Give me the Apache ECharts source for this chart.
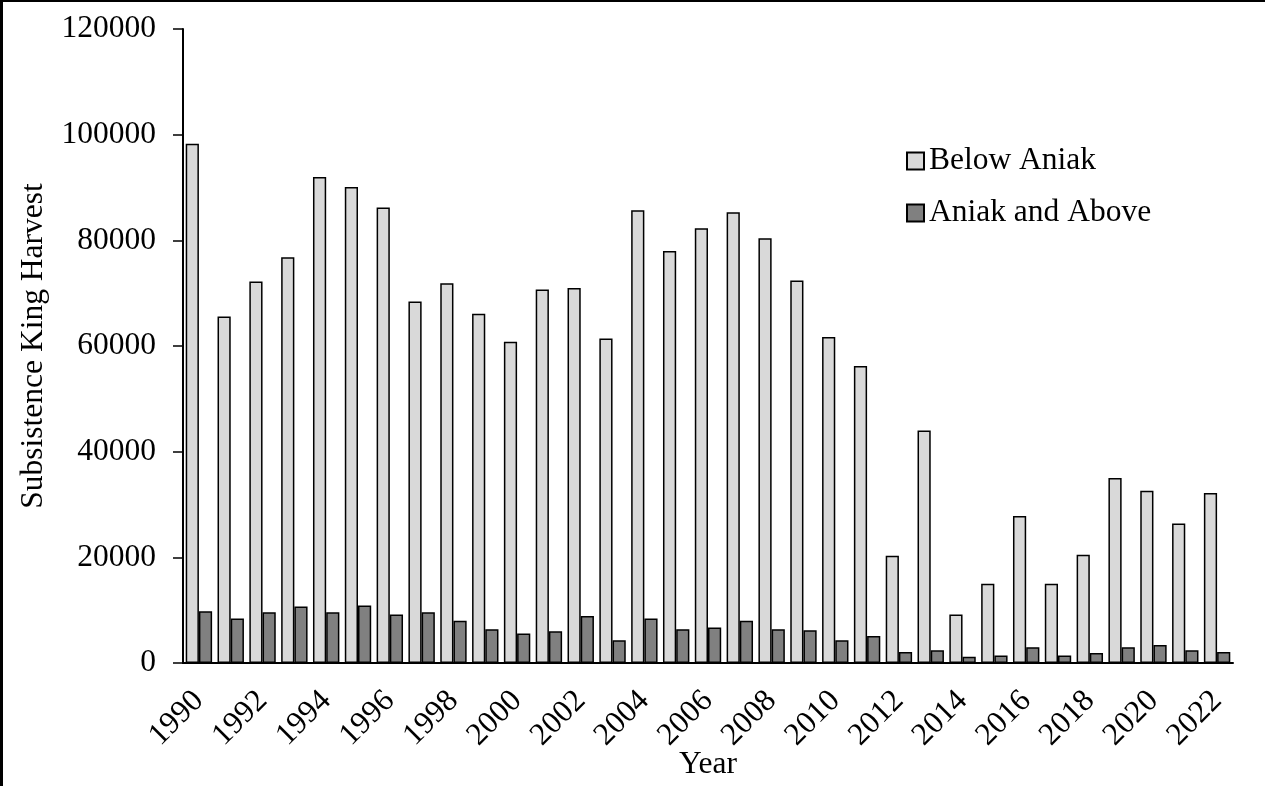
<!DOCTYPE html>
<html>
<head>
<meta charset="utf-8">
<script src="https://cdn.jsdelivr.net/npm/echarts@6/dist/echarts.min.js"></script>
<style>
  html, body { margin: 0; padding: 0; background: #fff; }
  #frame { position: absolute; left: 0; top: 0; width: 1265px; height: 786px; box-sizing: border-box; border-top: 2px solid #000; border-left: 3px solid #000; }
  #chart { position: absolute; left: 0; top: 0; width: 1265px; height: 786px; }
</style>
</head>
<body>
<div id="chart"></div>
<div id="frame"></div>
<script>
const years = ['1990','1991','1992','1993','1994','1995','1996','1997','1998','1999','2000','2001','2002','2003','2004','2005','2006','2007','2008','2009','2010','2011','2012','2013','2014','2015','2016','2017','2018','2019','2020','2021','2022'];
const belowAniak = [98300, 65600, 72200, 76800, 92000, 90100, 86200, 68400, 71900, 66100, 60800, 70700, 71000, 61400, 85700, 78000, 82300, 85300, 80400, 72400, 61700, 56200, 20300, 44000, 9200, 15000, 27800, 15000, 20500, 35000, 32600, 26400, 32200];
const aniakAndAbove = [9800, 8400, 9600, 10700, 9600, 10900, 9200, 9600, 8000, 6400, 5600, 6000, 8900, 4300, 8400, 6400, 6700, 8000, 6400, 6200, 4300, 5100, 2100, 2400, 1200, 1400, 3000, 1400, 1900, 3000, 3400, 2400, 2100];
const seriesNames = ['Below Aniak', 'Aniak and Above'];
const yTicks = { min: 0, max: 120000, interval: 20000 };

const FONT = "'Liberation Serif', 'Times New Roman', serif";
const FS = 31.5;
const chart = echarts.init(document.getElementById('chart'), null, { renderer: 'canvas' });
chart.setOption({
  animation: false,
  backgroundColor: '#fff',
  textStyle: { fontFamily: FONT, color: '#000' },
  grid: { left: 183, right: 32, top: 29, bottom: 123, containLabel: false, outerBoundsMode: 'none' },
  legend: {
    orient: 'vertical',
    left: 906, top: 145,
    padding: 0,
    itemWidth: 17, itemHeight: 17, itemGap: 20,
    icon: 'rect',
    textStyle: { fontFamily: FONT, fontSize: FS, color: '#000', lineHeight: 30 },
    data: seriesNames
  },
  xAxis: {
    type: 'category',
    data: years,
    name: 'Year',
    nameLocation: 'middle',
    nameGap: 86,
    nameMoveOverlap: false,
    nameTextStyle: { fontFamily: FONT, fontSize: FS, color: '#000' },
    axisLine: { lineStyle: { color: '#000', width: 2 } },
    axisTick: { show: false },
    axisLabel: { interval: 1, rotate: 45, margin: 33, fontFamily: FONT, fontSize: FS, color: '#000' }
  },
  yAxis: {
    type: 'value',
    min: yTicks.min, max: yTicks.max, interval: yTicks.interval,
    name: 'Subsistence King Harvest',
    nameLocation: 'middle',
    nameGap: 133,
    nameMoveOverlap: false,
    nameTextStyle: { fontFamily: FONT, fontSize: FS, color: '#000' },
    axisLine: { show: true, lineStyle: { color: '#000', width: 2 } },
    axisTick: { show: true, inside: false, length: 10, lineStyle: { color: '#000', width: 1.5 } },
    splitLine: { show: false },
    axisLabel: { margin: 27, fontFamily: FONT, fontSize: FS, color: '#000', formatter: v => String(v) }
  },
  series: [
    {
      name: seriesNames[0], type: 'bar', data: belowAniak,
      barGap: '0%', barCategoryGap: '17%',
      itemStyle: { color: '#D9D9D9', borderColor: '#000', borderWidth: 1.5 }
    },
    {
      name: seriesNames[1], type: 'bar', data: aniakAndAbove,
      barGap: '0%', barCategoryGap: '17%',
      itemStyle: { color: '#808080', borderColor: '#000', borderWidth: 1.5 }
    }
  ]
});
</script>
</body>
</html>
